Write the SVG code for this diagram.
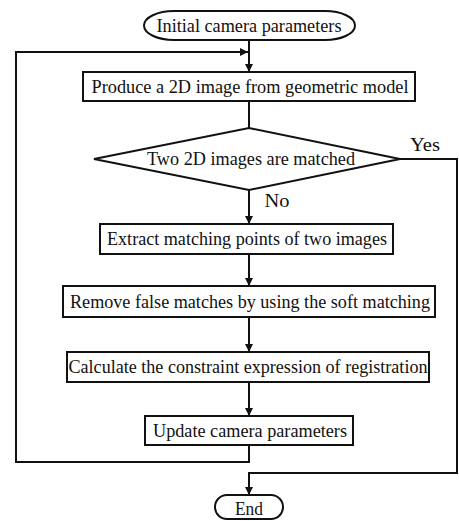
<svg xmlns="http://www.w3.org/2000/svg" width="459" height="521" viewBox="0 0 459 521">
  <defs>
    <style>
      .shape { fill: #ffffff; stroke: #111111; stroke-width: 2; }
      .conn { fill: none; stroke: #111111; stroke-width: 2; }
      .lbl { font-family: "Liberation Serif", "Times New Roman", serif; font-size: 19px; fill: #111111; text-anchor: middle; }
    </style>
    <marker id="arrow" viewBox="0 0 10 10" refX="10" refY="5" markerWidth="4" markerHeight="4" orient="auto" markerUnits="strokeWidth">
      <path d="M0,0 L10,5 L0,10 z" fill="#111111"/>
    </marker>
  </defs>
  <rect width="459" height="521" fill="#ffffff"/>

  <g id="connectors">
    <line class="conn" x1="249" y1="40" x2="249" y2="72" marker-end="url(#arrow)"/>
    <line class="conn" x1="249" y1="101" x2="249" y2="128"/>
    <line class="conn" x1="249" y1="190" x2="249" y2="224" marker-end="url(#arrow)"/>
    <line class="conn" x1="249" y1="254" x2="249" y2="286" marker-end="url(#arrow)"/>
    <line class="conn" x1="249" y1="317" x2="249" y2="352" marker-end="url(#arrow)"/>
    <line class="conn" x1="249" y1="382" x2="249" y2="416" marker-end="url(#arrow)"/>
    <polyline class="conn" points="249,445 249,462 16,462 16,52 248,52" marker-end="url(#arrow)"/>
    <polyline class="conn" points="400,159 457,159 457,473 249,473 249,495" marker-end="url(#arrow)"/>
    <text class="lbl" x="425" y="151" textLength="30" lengthAdjust="spacingAndGlyphs">Yes</text>
    <text class="lbl" x="277" y="207" textLength="25" lengthAdjust="spacingAndGlyphs">No</text>
  </g>

  <g id="start">
    <rect class="shape" x="144" y="11" width="211" height="29" rx="30" ry="14.5"/>
    <text class="lbl" x="249" y="32" textLength="185" lengthAdjust="spacingAndGlyphs">Initial camera parameters</text>
  </g>

  <g id="produce">
    <rect class="shape" x="83" y="72" width="332" height="29"/>
    <text class="lbl" x="250" y="93" textLength="317" lengthAdjust="spacingAndGlyphs">Produce a 2D image from geometric model</text>
  </g>

  <g id="decision">
    <polygon class="shape" points="249,128 400,159 249,190 94,159"/>
    <text class="lbl" x="251" y="165" textLength="208" lengthAdjust="spacingAndGlyphs">Two 2D images are matched</text>
  </g>

  <g id="extract">
    <rect class="shape" x="100" y="224" width="293" height="30"/>
    <text class="lbl" x="247" y="245" textLength="280" lengthAdjust="spacingAndGlyphs">Extract matching points of two images</text>
  </g>

  <g id="remove">
    <rect class="shape" x="63" y="286" width="372" height="31"/>
    <text class="lbl" x="250" y="308" textLength="360" lengthAdjust="spacingAndGlyphs">Remove false matches by using the soft matching</text>
  </g>

  <g id="calculate">
    <rect class="shape" x="67" y="352" width="362" height="30"/>
    <text class="lbl" x="248" y="373" textLength="359" lengthAdjust="spacingAndGlyphs">Calculate the constraint expression of registration</text>
  </g>

  <g id="update">
    <rect class="shape" x="145" y="416" width="208" height="29"/>
    <text class="lbl" x="250" y="437" textLength="194" lengthAdjust="spacingAndGlyphs">Update camera parameters</text>
  </g>

  <g id="end">
    <rect class="shape" x="215" y="495" width="68" height="24" rx="12" ry="12"/>
    <text class="lbl" x="249" y="515" textLength="28" lengthAdjust="spacingAndGlyphs">End</text>
  </g>
</svg>
